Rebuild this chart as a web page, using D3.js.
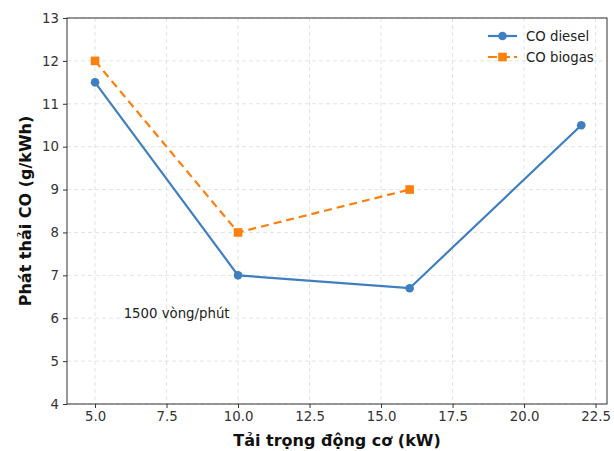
<!DOCTYPE html>
<html>
<head>
<meta charset="utf-8">
<script src="https://cdn.jsdelivr.net/npm/d3@7/dist/d3.min.js"></script>
<style>
  body { margin: 0; background: #fff; }
  svg { display: block; font-family: "DejaVu Sans", sans-serif; }
</style>
</head>
<body>
<svg id="chart" width="614" height="451"></svg>
<script>
// Engine load (kW) and CO emissions (g/kWh)
const dieselLoad = [5, 10, 16, 22];
const dieselCO = [11.5, 7.0, 6.7, 10.5];
const biogasLoad = [5, 10, 16];
const biogasCO = [12.0, 8.0, 9.0];
const xTicks = [5.0, 7.5, 10.0, 12.5, 15.0, 17.5, 20.0, 22.5];
const yTicks = [4, 5, 6, 7, 8, 9, 10, 11, 12, 13];
const seriesNames = ["CO diesel", "CO biogas"];
const noteText = "1500 vòng/phút";
const xLabel = "Tải trọng động cơ (kW)";
const yLabel = "Phát thải CO (g/kWh)";

const blue = "#3f7fc1";
const orange = "#ff7f0e";
const fs = 13.3;

const svg = d3.select("#chart");
const m = { left: 67, right: 607, top: 18, bottom: 404 };

const x = d3.scaleLinear().domain([4.02, 22.9]).range([m.left, m.right]);
const y = d3.scaleLinear().domain([4, 13]).range([m.bottom, m.top]);

// grid
const grid = svg.append("g");
grid.selectAll("line.gx").data(xTicks).join("line")
  .attr("x1", d => x(d)).attr("x2", d => x(d))
  .attr("y1", m.top).attr("y2", m.bottom)
  .attr("stroke", "#dcdcdc").attr("stroke-width", 0.8).attr("stroke-dasharray", "4,3");
grid.selectAll("line.gy").data(yTicks).join("line")
  .attr("x1", m.left).attr("x2", m.right)
  .attr("y1", d => y(d)).attr("y2", d => y(d))
  .attr("stroke", "#dcdcdc").attr("stroke-width", 0.8).attr("stroke-dasharray", "4,3");

// axes
const xAxis = svg.append("g").attr("transform", `translate(0,${m.bottom})`)
  .call(d3.axisBottom(x).tickValues(xTicks).tickFormat(d3.format(".1f")).tickSize(4).tickPadding(4).tickSizeOuter(0));
const yAxis = svg.append("g").attr("transform", `translate(${m.left},0)`)
  .call(d3.axisLeft(y).tickValues(yTicks).tickFormat(d3.format("d")).tickSize(4).tickPadding(4).tickSizeOuter(0));
[xAxis, yAxis].forEach(a => {
  a.selectAll("text").attr("font-size", fs).attr("fill", "#333").attr("font-family", "DejaVu Sans, sans-serif");
  a.selectAll("line").attr("stroke", "#333");
  a.select(".domain").remove();
});

// frame
svg.append("rect")
  .attr("x", m.left).attr("y", m.top)
  .attr("width", m.right - m.left).attr("height", m.bottom - m.top)
  .attr("fill", "none").attr("stroke", "#333").attr("stroke-width", 1);

// lines
const dieselPts = dieselLoad.map((d, i) => [d, dieselCO[i]]);
const biogasPts = biogasLoad.map((d, i) => [d, biogasCO[i]]);
const line = d3.line().x(d => x(d[0])).y(d => y(d[1]));

svg.append("path").datum(dieselPts).attr("d", line)
  .attr("fill", "none").attr("stroke", blue).attr("stroke-width", 2.2);
svg.append("path").datum(biogasPts).attr("d", line)
  .attr("fill", "none").attr("stroke", orange).attr("stroke-width", 2.2).attr("stroke-dasharray", "8,5");

svg.selectAll("circle.d").data(dieselPts).join("circle")
  .attr("cx", d => x(d[0])).attr("cy", d => y(d[1])).attr("r", 4.3).attr("fill", blue);
svg.selectAll("rect.b").data(biogasPts).join("rect")
  .attr("x", d => x(d[0]) - 4.3).attr("y", d => y(d[1]) - 4.3)
  .attr("width", 8.6).attr("height", 8.6).attr("fill", orange);

// annotation
svg.append("text").attr("x", x(6)).attr("y", y(6)).attr("font-size", fs).attr("fill", "#222")
  .text(noteText);

// legend
const leg = svg.append("g");
const legY = [36, 57];
leg.append("line").attr("x1", 488).attr("x2", 517).attr("y1", legY[0]).attr("y2", legY[0])
  .attr("stroke", blue).attr("stroke-width", 2.2);
leg.append("circle").attr("cx", 502.5).attr("cy", legY[0]).attr("r", 4.3).attr("fill", blue);
leg.append("line").attr("x1", 488).attr("x2", 517).attr("y1", legY[1]).attr("y2", legY[1])
  .attr("stroke", orange).attr("stroke-width", 2.2).attr("stroke-dasharray", "9,4");
leg.append("rect").attr("x", 502.5 - 4.3).attr("y", legY[1] - 4.3).attr("width", 8.6).attr("height", 8.6).attr("fill", orange);
leg.selectAll("text").data(seriesNames).join("text")
  .attr("x", 526).attr("y", (d, i) => legY[i]).attr("dy", "0.35em")
  .attr("font-size", fs).attr("fill", "#222").text(d => d);

// axis titles
svg.append("text").attr("x", (m.left + m.right) / 2).attr("y", 446)
  .attr("text-anchor", "middle").attr("font-size", 16).attr("font-weight", "bold").attr("fill", "#111")
  .text(xLabel);
svg.append("text").attr("transform", `translate(31,${(m.top + m.bottom) / 2}) rotate(-90)`)
  .attr("text-anchor", "middle").attr("font-size", 16).attr("font-weight", "bold").attr("fill", "#111")
  .text(yLabel);
</script>
</body>
</html>
